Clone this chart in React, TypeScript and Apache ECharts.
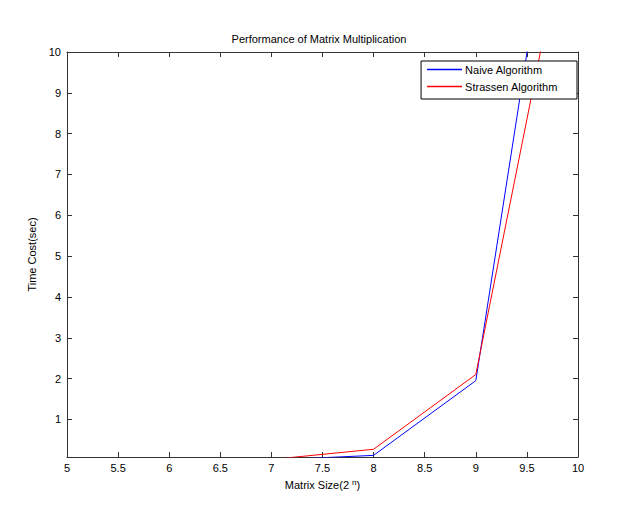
import React, { useEffect, useRef } from "react";
import * as echarts from "echarts";

const xValues = [5, 6, 7, 8, 9, 10];
const naiveTimes = [0.0005, 0.002, 0.005, 0.12, 1.95, 18];
const strassenTimes = [0.001, 0.004, 0.02, 0.27, 2.1, 14.6];
const yTicks = [1, 2, 3, 4, 5, 6, 7, 8, 9, 10];

const FONT = "'Liberation Sans', Arial, sans-serif";
const AXIS_COLOR = "#333333";

export default function App() {
  const ref = useRef<HTMLDivElement>(null);
  useEffect(() => {
    if (!ref.current) return;
    const chart = echarts.init(ref.current, undefined, { renderer: "svg" });
    const tickCommon = { inside: true, length: 5, lineStyle: { color: AXIS_COLOR, width: 1 } };
    const lineCommon = { show: true, onZero: false, lineStyle: { color: AXIS_COLOR, width: 1 } };
    chart.setOption({
      animation: false,
      backgroundColor: "#ffffff",
      title: {
        text: "Performance of Matrix Multiplication",
        left: "center",
        top: 28,
        textStyle: { fontFamily: FONT, fontSize: 11, fontWeight: "normal", color: "#000" },
      },
      legend: {
        orient: "vertical",
        right: 61,
        top: 61,
        backgroundColor: "#ffffff",
        borderColor: "#000000",
        borderWidth: 1,
        padding: [3, 19, 7, 6],
        itemGap: 6,
        itemWidth: 35,
        itemHeight: 12,
        icon: "path://M0,5.2L35,5.2L35,6.8L0,6.8Z",
        itemStyle: { borderWidth: 0 },
        lineStyle: { width: 0 },
        textStyle: { fontFamily: FONT, fontSize: 11, color: "#000", padding: [0, 0, 0, -2] },
        data: [
          { name: "Naive Algorithm", itemStyle: { color: "#0000ff", borderWidth: 0 } },
          { name: "Strassen Algorithm", itemStyle: { color: "#ff0000", borderWidth: 0 } },
        ],
      },
      grid: { left: 67, right: 60, top: 52, bottom: 61, containLabel: false },
      xAxis: [
        {
          type: "value",
          min: 5,
          max: 10,
          interval: 0.5,
          position: "bottom",
          name: "Matrix Size(2 {sup|n})",
          nameLocation: "middle",
          nameGap: 21,
          nameTextStyle: {
            fontFamily: FONT,
            fontSize: 11,
            color: "#000",
            rich: { sup: { fontFamily: FONT, fontSize: 8, verticalAlign: "top", padding: [0, 0, 6, 0], color: "#000" } },
          },
          axisLine: lineCommon,
          axisTick: tickCommon,
          axisLabel: { fontFamily: FONT, fontSize: 11, color: "#000", margin: 5 },
          splitLine: { show: false },
        },
        {
          type: "value",
          min: 5,
          max: 10,
          interval: 0.5,
          position: "top",
          axisLine: lineCommon,
          axisTick: tickCommon,
          axisLabel: { show: false },
          splitLine: { show: false },
        },
      ],
      yAxis: [
        {
          type: "value",
          min: 0.08,
          max: 10,
          position: "left",
          name: "Time Cost(sec)",
          nameLocation: "middle",
          nameGap: 26,
          nameTextStyle: { fontFamily: FONT, fontSize: 11, color: "#000" },
          axisLine: lineCommon,
          axisTick: { ...tickCommon, customValues: yTicks },
          axisLabel: { fontFamily: FONT, fontSize: 11, color: "#000", margin: 6, customValues: yTicks },
          splitLine: { show: false },
        },
        {
          type: "value",
          min: 0.08,
          max: 10,
          position: "right",
          axisLine: lineCommon,
          axisTick: { ...tickCommon, customValues: yTicks },
          axisLabel: { show: false, customValues: yTicks },
          splitLine: { show: false },
        },
      ],
      series: [
        {
          name: "Naive Algorithm",
          type: "line",
          data: xValues.map((x, i) => [x, naiveTimes[i]]),
          symbol: "none",
          clip: true,
          lineStyle: { color: "#0000ff", width: 1 },
          itemStyle: { color: "#0000ff" },
        },
        {
          name: "Strassen Algorithm",
          type: "line",
          data: xValues.map((x, i) => [x, strassenTimes[i]]),
          symbol: "none",
          clip: true,
          lineStyle: { color: "#ff0000", width: 1 },
          itemStyle: { color: "#ff0000" },
        },
      ],
    });
    return () => chart.dispose();
  }, []);
  return <div ref={ref} style={{ width: 638, height: 518, position: "absolute", left: 0, top: 0 }} />;
}
